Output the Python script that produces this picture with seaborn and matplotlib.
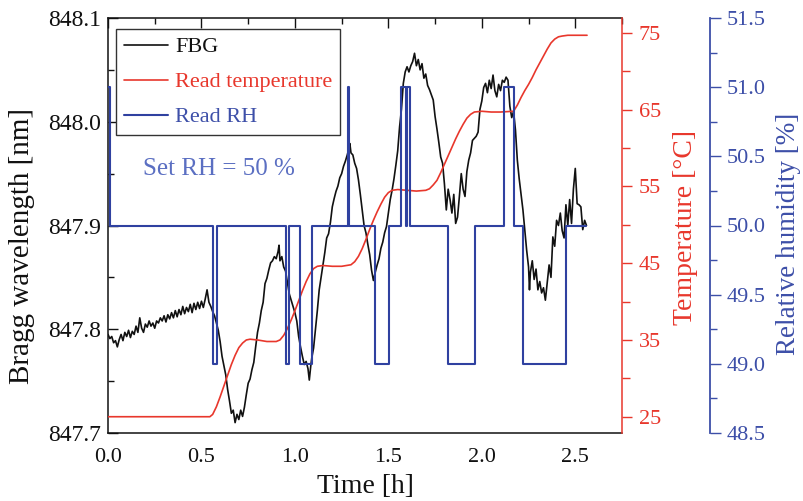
import matplotlib
matplotlib.use("Agg")
import matplotlib.pyplot as plt
import seaborn as sns
from matplotlib.ticker import MultipleLocator, FixedLocator, FormatStrFormatter
from matplotlib.lines import Line2D

# ---------------- data ----------------
fbg_time = [
    0.00, 0.01, 0.02, 0.03, 0.04, 0.05, 0.06, 0.07, 0.08, 0.09,
    0.10, 0.11, 0.12, 0.13, 0.14, 0.15, 0.16, 0.17, 0.18, 0.19,
    0.20, 0.21, 0.22, 0.23, 0.24, 0.25, 0.26, 0.27, 0.28, 0.29,
    0.30, 0.31, 0.32, 0.33, 0.34, 0.35, 0.36, 0.37, 0.38, 0.39,
    0.40, 0.41, 0.42, 0.43, 0.44, 0.45, 0.46, 0.47, 0.48, 0.49,
    0.50, 0.51, 0.52, 0.53, 0.54, 0.55,
    0.56, 0.57, 0.58, 0.59, 0.60, 0.61, 0.62, 0.63, 0.64, 0.65,
    0.66, 0.67, 0.68, 0.69, 0.70, 0.71, 0.72, 0.73, 0.74, 0.75,
    0.76, 0.77, 0.78, 0.79, 0.80, 0.81, 0.82, 0.83, 0.84, 0.85,
    0.86, 0.87, 0.88, 0.89, 0.90, 0.91, 0.915, 0.92, 0.93, 0.94,
    0.95, 0.96, 0.97, 0.98, 0.99, 1.00, 1.01, 1.02, 1.03, 1.04,
    1.05, 1.06, 1.07, 1.077, 1.085, 1.09, 1.10, 1.11, 1.12, 1.13,
    1.14, 1.15, 1.16, 1.17, 1.18, 1.19, 1.20, 1.21, 1.22, 1.23,
    1.24, 1.25, 1.26, 1.27, 1.28, 1.29, 1.294,
    1.30, 1.31, 1.32, 1.33, 1.34, 1.35, 1.36, 1.37, 1.38, 1.39,
    1.40, 1.41, 1.42, 1.43, 1.44, 1.45, 1.46, 1.47, 1.48, 1.49,
    1.50, 1.51, 1.52, 1.53, 1.54, 1.55, 1.56, 1.57, 1.58, 1.59,
    1.60, 1.61, 1.62, 1.63, 1.64, 1.65, 1.66, 1.67, 1.68, 1.69,
    1.70, 1.71, 1.72, 1.73, 1.74, 1.75, 1.76, 1.77, 1.78, 1.79,
    1.80, 1.81, 1.82, 1.83, 1.84, 1.85, 1.86, 1.87, 1.88, 1.89,
    1.90, 1.91, 1.92, 1.93, 1.94, 1.95, 1.96, 1.97, 1.98, 1.99,
    2.00, 2.01, 2.02, 2.03, 2.04, 2.05, 2.06, 2.07, 2.08, 2.09,
    2.10, 2.11, 2.12, 2.13, 2.14, 2.15, 2.16, 2.17, 2.18, 2.19,
    2.20, 2.21, 2.22, 2.23, 2.24, 2.25, 2.255, 2.26, 2.27, 2.28,
    2.29, 2.30, 2.31, 2.32, 2.33, 2.34, 2.35, 2.36, 2.37, 2.38,
    2.39, 2.40, 2.41, 2.42, 2.43, 2.44, 2.45, 2.46, 2.47, 2.48,
    2.49, 2.50, 2.51, 2.52, 2.53, 2.54, 2.55, 2.56,
]
fbg_nm = [
    847.795, 847.791, 847.793, 847.787, 847.789, 847.783, 847.790, 847.795, 847.789, 847.797,
    847.793, 847.799, 847.792, 847.798, 847.795, 847.803, 847.797, 847.811, 847.801, 847.797,
    847.805, 847.802, 847.808, 847.803, 847.806, 847.801, 847.808, 847.806, 847.811, 847.808,
    847.813, 847.807, 847.814, 847.810, 847.816, 847.811, 847.818, 847.812, 847.819, 847.814,
    847.822, 847.815, 847.821, 847.817, 847.824, 847.816, 847.825, 847.819, 847.826, 847.820,
    847.827, 847.821, 847.829, 847.838, 847.826, 847.822,
    847.817, 847.813, 847.806, 847.799, 847.788, 847.774, 847.765, 847.756, 847.742, 847.731,
    847.719, 847.722, 847.710, 847.718, 847.713, 847.722, 847.716, 847.725, 847.737, 847.748,
    847.752, 847.761, 847.768, 847.783, 847.797, 847.806, 847.818, 847.826, 847.844, 847.849,
    847.857, 847.864, 847.866, 847.870, 847.868, 847.875, 847.881, 847.866, 847.870, 847.860,
    847.856, 847.845, 847.834, 847.828, 847.822, 847.816, 847.808, 847.793, 847.783, 847.774,
    847.766, 847.769, 847.762, 847.751, 847.765, 847.772, 847.782, 847.800, 847.818, 847.838,
    847.850, 847.862, 847.874, 847.888, 847.892, 847.903, 847.918, 847.926, 847.933, 847.938,
    847.946, 847.950, 847.957, 847.962, 847.968, 847.975, 847.979,
    847.970, 847.968, 847.960, 847.955, 847.944, 847.930, 847.915, 847.900, 847.893, 847.882,
    847.872, 847.857, 847.847, 847.855, 847.862, 847.868, 847.878, 847.884, 847.893, 847.899,
    847.912, 847.925, 847.934, 847.945, 847.958, 847.972, 847.995, 848.012, 848.037, 848.048,
    848.053, 848.048, 848.054, 848.058, 848.066, 848.054, 848.060, 848.050, 848.056, 848.042,
    848.046, 848.035, 848.031, 848.026, 848.021, 848.005, 847.993, 847.980, 847.966, 847.960,
    847.940, 847.915, 847.935, 847.925, 847.912, 847.930, 847.902, 847.908, 847.928, 847.950,
    847.935, 847.928, 847.952, 847.963, 847.970, 847.982, 847.984, 847.986, 847.990, 848.012,
    848.020, 848.033, 848.037, 848.028, 848.040, 848.032, 848.045, 848.030, 848.024, 848.036,
    848.030, 848.040, 848.038, 848.043, 848.040, 848.015, 848.004, 848.010, 847.992, 847.963,
    847.945, 847.930, 847.915, 847.895, 847.876, 847.860, 847.838, 847.855, 847.866, 847.848,
    847.858, 847.838, 847.846, 847.835, 847.840, 847.828, 847.845, 847.862, 847.850, 847.889,
    847.880, 847.905, 847.900, 847.912, 847.895, 847.888, 847.920, 847.900, 847.925, 847.902,
    847.935, 847.955, 847.921, 847.920, 847.918, 847.896, 847.905, 847.900,
]

temp_time = [
    0.00, 0.10, 0.20, 0.30, 0.40, 0.50, 0.545, 0.56, 0.58, 0.60,
    0.62, 0.64, 0.66, 0.68, 0.70, 0.72, 0.74, 0.76, 0.80, 0.85,
    0.90, 0.92, 0.94, 0.96, 0.98, 1.00, 1.02, 1.04, 1.06, 1.08,
    1.10, 1.12, 1.15, 1.20, 1.25, 1.30, 1.32, 1.34, 1.36, 1.38,
    1.40, 1.42, 1.44, 1.46, 1.48, 1.50, 1.52, 1.55, 1.60, 1.65,
    1.70, 1.72, 1.74, 1.76, 1.78, 1.80, 1.82, 1.84, 1.86, 1.88,
    1.90, 1.92, 1.94, 1.96, 2.00, 2.05, 2.10, 2.17, 2.19, 2.21,
    2.23, 2.25, 2.27, 2.29, 2.31, 2.33, 2.35, 2.37, 2.39, 2.41,
    2.43, 2.46, 2.50, 2.563,
]
temp_c = [
    25.0, 25.0, 25.0, 25.0, 25.0, 25.0, 25.0, 25.3, 26.3, 27.6,
    29.0, 30.4, 31.8, 33.0, 34.0, 34.6, 35.0, 35.1, 35.0, 34.8,
    34.8, 35.0, 35.6, 36.5, 37.6, 38.8, 40.1, 41.4, 42.6, 43.6,
    44.3, 44.6, 44.7, 44.6, 44.6, 44.8, 45.2, 45.9, 46.9, 48.1,
    49.4, 50.6, 51.7, 52.7, 53.6, 54.2, 54.5, 54.6, 54.5, 54.4,
    54.5, 54.7, 55.2, 55.8, 56.8, 57.9, 59.0, 60.1, 61.2, 62.2,
    63.1, 63.9, 64.4, 64.7, 64.8, 64.7, 64.7, 64.8, 65.6, 66.6,
    67.5, 68.3, 69.2, 70.2, 71.1, 72.0, 72.9, 73.7, 74.2, 74.5,
    74.6, 74.7, 74.7, 74.7,
]

rh_time = [
    0.000, 0.012, 0.563, 0.581, 0.955, 0.970, 1.027, 1.091, 1.282, 1.290,
    1.426, 1.501, 1.570, 1.594, 1.602, 1.615, 1.818, 1.964, 2.121, 2.171,
    2.218, 2.453, 2.560,
]
rh_pct = [
    51.0, 50.0, 49.0, 50.0, 49.0, 50.0, 49.0, 50.0, 51.0, 50.0,
    49.0, 50.0, 51.0, 50.0, 51.0, 50.0, 49.0, 50.0, 51.0, 50.0,
    49.0, 50.0, 50.0,
]

series_labels = ["FBG", "Read temperature", "Read RH"]
annotation_text = "Set RH = 50 %"

# ---------------- style ----------------
sns.set_theme(style="white")
plt.rcParams["font.family"] = ["Liberation Serif", "DejaVu Serif"]

BLACK = "#111111"
RED = "#e8372c"
BLUE = "#2f41a0"
BLUE_TXT = "#3d4fa8"
BLUE_ANN = "#5b6fc2"

fig = plt.figure(figsize=(8.04, 5.01), dpi=100)
ax = fig.add_axes([108 / 804, 1 - 433 / 501, 514 / 804, 415 / 501])
ax2 = ax.twinx()
ax3 = ax.twinx()

sns.lineplot(x=fbg_time, y=fbg_nm, ax=ax, color=BLACK, linewidth=1.2,
             legend=False, sort=False)
sns.lineplot(x=temp_time, y=temp_c, ax=ax2, color=RED, linewidth=1.2,
             legend=False, sort=False)
sns.lineplot(x=rh_time, y=rh_pct, ax=ax3, color=BLUE, linewidth=1.5,
             drawstyle="steps-post", legend=False, sort=False)

# ---------------- main axis ----------------
ax.set_xlim(0, 2.75)
ax.set_ylim(847.7, 848.1)
ax.xaxis.set_major_locator(MultipleLocator(0.5))
ax.xaxis.set_minor_locator(MultipleLocator(0.25))
ax.xaxis.set_major_formatter(FormatStrFormatter("%.1f"))
ax.yaxis.set_major_locator(MultipleLocator(0.1))
ax.yaxis.set_minor_locator(MultipleLocator(0.05))
ax.yaxis.set_major_formatter(FormatStrFormatter("%.1f"))
ax.tick_params(axis="both", which="both", direction="in", top=True,
               right=False, colors=BLACK, width=1.0)
ax.tick_params(which="major", length=7)
ax.tick_params(which="minor", length=4)
ax.tick_params(axis="y", labelsize=17, pad=5)
ax.tick_params(axis="x", labelsize=16, pad=11)
for s in ["left", "bottom", "top"]:
    ax.spines[s].set_color(BLACK)
    ax.spines[s].set_linewidth(1.1)
ax.spines["right"].set_visible(False)
ax.set_xlabel("Time [h]", fontsize=20, color=BLACK, labelpad=5)
ax.set_ylabel("Bragg wavelength [nm]", fontsize=21, color=BLACK)
ax.yaxis.set_label_coords(-0.142, 0.45)

# ---------------- temperature axis ----------------
ax2.set_ylim(22.88, 76.95)
ax2.yaxis.set_major_locator(FixedLocator([25, 35, 45, 55, 65, 75]))
ax2.yaxis.set_minor_locator(FixedLocator([30, 40, 50, 60, 70]))
ax2.tick_params(axis="y", which="both", direction="out", colors=RED,
                labelsize=16, width=1.0, pad=5, left=False, right=True)
ax2.tick_params(which="major", length=7)
ax2.tick_params(which="minor", length=6)
for s in ["left", "bottom", "top"]:
    ax2.spines[s].set_visible(False)
ax2.spines["right"].set_color(RED)
ax2.spines["right"].set_linewidth(1.1)
ax2.set_ylabel("Temperature [°C]", fontsize=20, color=RED, rotation=90)
ax2.yaxis.set_label_coords(1.10, 0.495)
ax2.grid(False)

# ---------------- RH axis ----------------
ax3.spines["right"].set_position(("outward", 88 * 0.72))
ax3.set_ylim(48.5, 51.5)
ax3.yaxis.set_major_locator(MultipleLocator(0.5))
ax3.yaxis.set_minor_locator(MultipleLocator(0.25))
ax3.yaxis.set_major_formatter(FormatStrFormatter("%.1f"))
ax3.tick_params(axis="y", which="both", direction="out", colors=BLUE_TXT,
                labelsize=16, width=1.0, pad=4, left=False, right=True)
ax3.tick_params(which="major", length=8)
ax3.tick_params(which="minor", length=5)
for s in ["left", "bottom", "top"]:
    ax3.spines[s].set_visible(False)
ax3.spines["right"].set_color(BLUE_TXT)
ax3.spines["right"].set_linewidth(1.3)
ax3.set_ylabel("Relative humidity [%]", fontsize=19.5, color=BLUE_TXT, rotation=90)
ax3.yaxis.set_label_coords(1.30, 0.48)
ax3.grid(False)
ax.grid(False)

# ---------------- annotation & legend ----------------
ax.text(0.596, 847.954, annotation_text, fontsize=18, color=BLUE_ANN,
        ha="center", va="center")

handles = [Line2D([], [], color=BLACK, lw=1.2),
           Line2D([], [], color=RED, lw=1.2),
           Line2D([], [], color=BLUE, lw=1.5)]
leg = ax3.legend(handles, series_labels, loc="upper left",
                 bbox_to_anchor=(0.0156, 0.9735), borderaxespad=0,
                 fontsize=16, frameon=True, fancybox=False, framealpha=1,
                 edgecolor="#333333", handlelength=2.0, handletextpad=0.3,
                 borderpad=0.35, labelspacing=0.65)
leg.get_frame().set_linewidth(1.0)
for txt, c in zip(leg.get_texts(), [BLACK, RED, BLUE_TXT]):
    txt.set_color(c)

fig.savefig("out.png", dpi=100)
